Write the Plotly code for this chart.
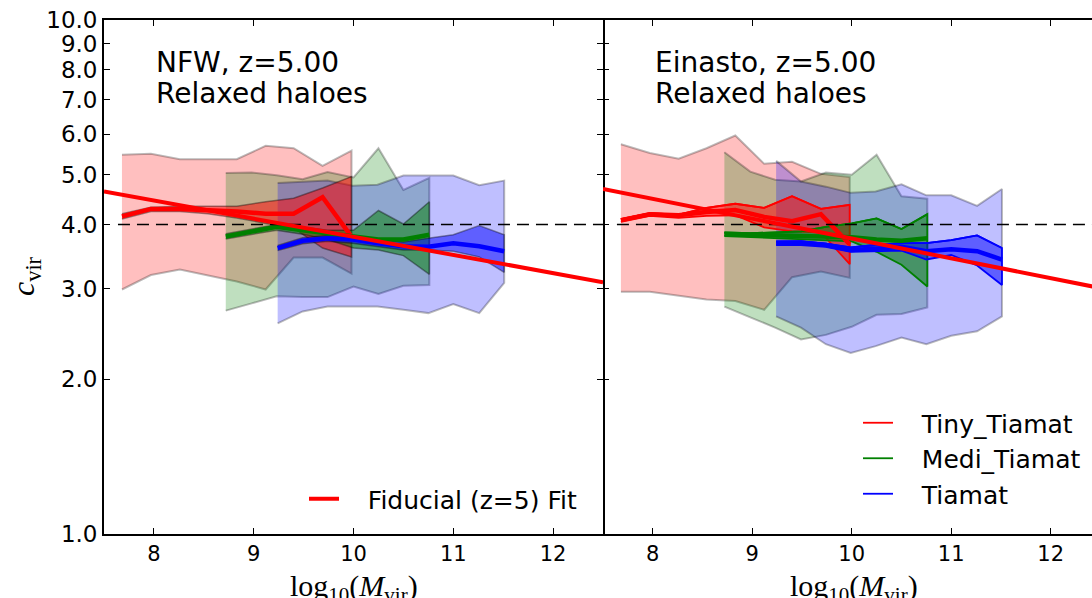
import plotly.graph_objects as go

# ---------------- data ----------------
# log10(Mvir) bin centres of the three simulations
logm_tiny = [7.68, 7.97, 8.26, 8.54, 8.83, 9.12, 9.40, 9.69, 9.98]
logm_medi = [8.72, 8.98, 9.23, 9.49, 9.74, 10.00, 10.25, 10.50, 10.76]
logm_tiamat = [9.24, 9.49, 9.74, 9.99, 10.24, 10.50, 10.75, 11.00, 11.26, 11.51]

# ---- NFW panel ----
nfw_tiny_upper = [5.47, 5.49, 5.36, 5.36, 5.36, 5.69, 5.63, 5.20, 5.57]
nfw_tiny_lower = [2.99, 3.19, 3.27, 3.19, 3.10, 2.99, 3.45, 3.45, 3.21]
nfw_tiny_err_hi = [4.20, 4.32, 4.34, 4.34, 4.34, 4.43, 4.50, 4.71, 4.96]
nfw_tiny_err_lo = [4.10, 4.24, 4.24, 4.20, 4.12, 4.02, 3.94, 3.60, 3.46]
nfw_tiny_median = [4.15, 4.29, 4.29, 4.27, 4.24, 4.20, 4.20, 4.52, 3.79]

nfw_medi_upper = [5.04, 5.05, 4.99, 4.90, 5.06, 4.94, 5.63, 4.67, 4.93]
nfw_medi_lower = [2.72, 2.81, 2.90, 2.89, 2.89, 3.03, 2.93, 3.04, 3.05]
nfw_medi_err_hi = [3.84, 3.92, 4.00, 3.95, 3.90, 3.90, 4.26, 4.01, 4.43]
nfw_medi_err_lo = [3.75, 3.83, 3.90, 3.83, 3.74, 3.60, 3.57, 3.48, 3.20]
nfw_medi_median = [3.79, 3.88, 3.96, 3.90, 3.84, 3.79, 3.74, 3.74, 3.82]

nfw_tiamat_upper = [4.82, 4.85, 4.87, 4.76, 4.78, 4.98, 4.98, 4.98, 4.77, 4.87]
nfw_tiamat_lower = [2.57, 2.71, 2.77, 2.77, 2.77, 2.73, 2.69, 2.80, 2.69, 3.08]
nfw_tiamat_err_hi = [3.64, 3.77, 3.81, 3.80, 3.74, 3.70, 3.76, 3.82, 3.98, 3.82]
nfw_tiamat_err_lo = [3.56, 3.67, 3.71, 3.68, 3.62, 3.57, 3.57, 3.55, 3.46, 3.23]
nfw_tiamat_median = [3.60, 3.72, 3.76, 3.74, 3.68, 3.63, 3.62, 3.68, 3.63, 3.55]

# ---- Einasto panel ----
ein_tiny_upper = [5.73, 5.51, 5.37, 5.63, 5.96, 5.25, 5.30, 5.02, 4.95]
ein_tiny_lower = [2.96, 2.96, 2.91, 2.86, 2.84, 2.73, 3.16, 3.24, 3.15]
ein_tiny_err_hi = [4.10, 4.21, 4.18, 4.31, 4.39, 4.31, 4.54, 4.29, 4.37]
ein_tiny_err_lo = [4.05, 4.16, 4.12, 4.16, 4.17, 3.95, 3.88, 3.86, 3.35]
ein_tiny_median = [4.08, 4.19, 4.17, 4.23, 4.27, 4.14, 4.06, 4.19, 3.66]

ein_medi_upper = [5.53, 5.07, 4.89, 4.85, 5.05, 5.00, 5.47, 4.54, 4.49]
ein_medi_lower = [2.77, 2.64, 2.52, 2.39, 2.44, 2.53, 2.67, 2.68, 2.76]
ein_medi_err_hi = [3.86, 3.85, 3.86, 3.88, 3.96, 4.02, 4.11, 3.92, 4.19]
ein_medi_err_lo = [3.80, 3.79, 3.77, 3.75, 3.73, 3.71, 3.54, 3.34, 3.03]
ein_medi_median = [3.83, 3.82, 3.81, 3.80, 3.80, 3.78, 3.74, 3.72, 3.76]

ein_tiamat_upper = [5.32, 4.85, 4.74, 4.61, 4.64, 4.79, 4.56, 4.56, 4.35, 4.69]
ein_tiamat_lower = [2.65, 2.52, 2.34, 2.25, 2.32, 2.41, 2.34, 2.43, 2.48, 2.65]
ein_tiamat_err_hi = [3.71, 3.71, 3.67, 3.61, 3.65, 3.68, 3.68, 3.73, 3.81, 3.60]
ein_tiamat_err_lo = [3.65, 3.65, 3.62, 3.54, 3.55, 3.56, 3.42, 3.49, 3.33, 3.05]
ein_tiamat_median = [3.68, 3.69, 3.65, 3.57, 3.59, 3.62, 3.55, 3.58, 3.55, 3.42]

# Fiducial (z=5) fit and c=4 reference line
fit_logm = [7.5, 12.5]
nfw_fit = [4.64, 3.09]
ein_fit = [4.69, 3.01]
ref_logm = [7.64, 12.5]
ref_c = [4.0, 4.0]

x_ticks = [8, 9, 10, 11, 12]
c_ticks = [1, 2, 3, 4, 5, 6, 7, 8, 9, 10]
c_ticklabels = ["1.0", "2.0", "3.0", "4.0", "5.0", "6.0", "7.0", "8.0", "9.0", "10.0"]

sim_names = ["Tiny_Tiamat", "Medi_Tiamat", "Tiamat"]
sim_rgb = ["255,0,0", "0,128,0", "0,0,255"]

# ---------------- figure ----------------
fig = go.Figure()
SANS = "DejaVu Sans"
SERIF = "Liberation Serif"


def poly(x, hi, lo):
    return list(x) + list(x)[::-1], list(hi) + list(lo)[::-1]


def add_panel(xa, ya, sims, fit, colored_edges, fit_legend):
    # outer scatter bands
    for (x, up, lo, eh, el, med), rgb in zip(sims, sim_rgb):
        px, py = poly(x, up, lo)
        fig.add_trace(go.Scatter(x=px, y=py, xaxis=xa, yaxis=ya, mode="lines",
                                 fill="toself", fillcolor="rgba(%s,0.25)" % rgb,
                                 line=dict(color="rgba(0,0,0,0.27)", width=2),
                                 showlegend=False, hoverinfo="skip"))
    # inner bands
    for (x, up, lo, eh, el, med), rgb, name in zip(sims, sim_rgb, sim_names):
        px, py = poly(x, eh, el)
        edge = "rgb(%s)" % rgb if colored_edges else "rgba(0,0,0,0.38)"
        fig.add_trace(go.Scatter(x=px, y=py, xaxis=xa, yaxis=ya, mode="lines",
                                 fill="toself", fillcolor="rgba(%s,0.5)" % rgb,
                                 line=dict(color=edge, width=1.8 if colored_edges else 1.5),
                                 showlegend=False, hoverinfo="skip"))
        if colored_edges:
            fig.add_trace(go.Scatter(x=x, y=eh, xaxis=xa, yaxis=ya, mode="lines",
                                     line=dict(color=edge, width=1.8),
                                     name="\u00a0\u00a0\u00a0" + name, legend="legend2",
                                     showlegend=True, hoverinfo="skip"))
    # medians
    for (x, up, lo, eh, el, med), rgb in zip(sims, sim_rgb):
        fig.add_trace(go.Scatter(x=x, y=med, xaxis=xa, yaxis=ya, mode="lines",
                                 line=dict(color="rgb(%s)" % rgb, width=4.5),
                                 showlegend=False, hoverinfo="skip"))
    # reference c = 4
    fig.add_trace(go.Scatter(x=ref_logm, y=ref_c, xaxis=xa, yaxis=ya, mode="lines",
                             line=dict(color="black", width=1.6, dash="12px,7px"),
                             showlegend=False, hoverinfo="skip"))
    # fiducial fit
    fig.add_trace(go.Scatter(x=fit_logm, y=fit, xaxis=xa, yaxis=ya, mode="lines",
                             line=dict(color="#ff0000", width=4),
                             name="\u00a0\u00a0\u00a0Fiducial (z=5) Fit", legend="legend",
                             showlegend=fit_legend, hoverinfo="skip"))


nfw_sims = [
    (logm_tiny, nfw_tiny_upper, nfw_tiny_lower, nfw_tiny_err_hi, nfw_tiny_err_lo, nfw_tiny_median),
    (logm_medi, nfw_medi_upper, nfw_medi_lower, nfw_medi_err_hi, nfw_medi_err_lo, nfw_medi_median),
    (logm_tiamat, nfw_tiamat_upper, nfw_tiamat_lower, nfw_tiamat_err_hi, nfw_tiamat_err_lo, nfw_tiamat_median),
]
ein_sims = [
    (logm_tiny, ein_tiny_upper, ein_tiny_lower, ein_tiny_err_hi, ein_tiny_err_lo, ein_tiny_median),
    (logm_medi, ein_medi_upper, ein_medi_lower, ein_medi_err_hi, ein_medi_err_lo, ein_medi_median),
    (logm_tiamat, ein_tiamat_upper, ein_tiamat_lower, ein_tiamat_err_hi, ein_tiamat_err_lo, ein_tiamat_median),
]

add_panel("x", "y", nfw_sims, nfw_fit, colored_edges=False, fit_legend=True)
add_panel("x2", "y2", ein_sims, ein_fit, colored_edges=True, fit_legend=False)

# ---------------- layout ----------------
W, H = 1092, 598
ML, MR, MT, MB = 104, 0, 20, 64
PW = W - ML - MR
PH = H - MT - MB
split = (603 - ML) / PW


def pxx(px):
    return (px - ML) / PW


def pxy(py):
    return (H - MB - py) / PH


axis_common = dict(linecolor="black", linewidth=1.8,
                   ticks="inside", ticklen=6, tickwidth=1.2, tickcolor="black",
                   showgrid=False, zeroline=False)

fig.update_layout(
    width=W, height=H,
    margin=dict(l=ML, r=MR, t=MT, b=MB),
    paper_bgcolor="white", plot_bgcolor="white",
    font=dict(family=SANS, color="black"),
    xaxis=dict(domain=[0, split], range=[7.5, 12.5], mirror="ticks", showline=True,
               tickvals=x_ticks, tickfont=dict(size=21, family=SANS), anchor="y", **axis_common),
    xaxis2=dict(domain=[split, 1], range=[7.5, 12.415], mirror="ticks", showline=True,
                tickvals=x_ticks, tickfont=dict(size=21, family=SANS), anchor="y2", **axis_common),
    yaxis=dict(type="log", range=[0, 1], mirror="ticks", anchor="x", showline=True,
               tickvals=c_ticks, ticktext=c_ticklabels,
               tickfont=dict(size=23, family=SANS), **axis_common),
    yaxis2=dict(type="log", range=[0, 1], anchor="x2", mirror=False, showline=False,
                tickvals=c_ticks, showticklabels=False, **axis_common),
    legend=dict(x=pxx(304), y=pxy(476), xanchor="left", yanchor="top",
                bgcolor="rgba(0,0,0,0)", borderwidth=0,
                font=dict(size=25, family=SANS)),
    legend2=dict(x=pxx(858), y=pxy(400), xanchor="left", yanchor="top",
                 bgcolor="rgba(0,0,0,0)", borderwidth=0, tracegroupgap=0,
                 font=dict(size=25, family=SANS)),
    showlegend=True,
)

annots = [
    dict(text="NFW, z=5.00", x=8.0, y=pxy(62), xref="x", yref="paper"),
    dict(text="Relaxed haloes", x=8.0, y=pxy(93), xref="x", yref="paper"),
    dict(text="Einasto, z=5.00", x=8.0, y=pxy(62), xref="x2", yref="paper"),
    dict(text="Relaxed haloes", x=8.0, y=pxy(93), xref="x2", yref="paper"),
]
for a in annots:
    fig.add_annotation(**a, xanchor="left", yanchor="middle", showarrow=False,
                       font=dict(size=28, family=SANS, color="black"))

fig.add_annotation(text="<i>c</i><sub>vir</sub>", x=pxx(25), y=pxy(276), xref="paper", yref="paper",
                   textangle=-90, showarrow=False, xanchor="center", yanchor="middle",
                   font=dict(size=32, family=SERIF, color="black"))
for cx in (pxx(353.5), pxx(854)):
    fig.add_annotation(text="log<sub>10</sub>(<i>M</i><sub>vir</sub>)", x=cx, y=pxy(567),
                       xref="paper", yref="paper", showarrow=False,
                       xanchor="center", yanchor="top",
                       font=dict(size=30, family=SERIF, color="black"))

fig.write_html("out.html")
